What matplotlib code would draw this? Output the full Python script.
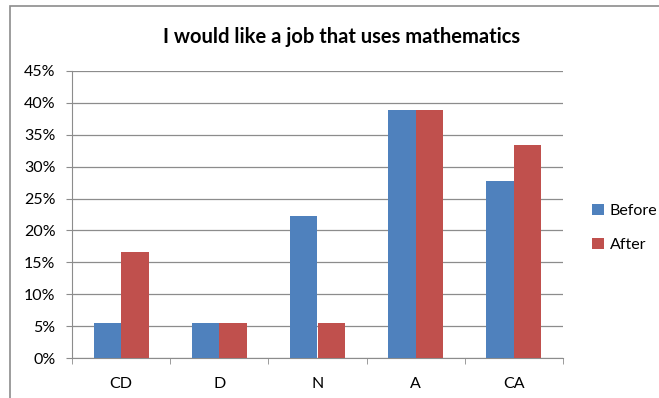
import matplotlib
matplotlib.use("Agg")
import matplotlib.pyplot as plt
import numpy as np
from matplotlib.patches import Rectangle
from matplotlib.ticker import FuncFormatter, FixedLocator

categories = ["CD", "D", "N", "A", "CA"]
before = [5.56, 5.56, 22.22, 38.89, 27.78]
after = [16.67, 5.56, 5.56, 38.89, 33.33]
series_names = ["Before", "After"]
title = "I would like a job that uses mathematics"
yticks = [0, 5, 10, 15, 20, 25, 30, 35, 40, 45]

plt.rcParams['font.family'] = ['Lato', 'DejaVu Sans']

W, H = 659, 398
fig = plt.figure(figsize=(W/100, H/100), dpi=100)
ax = fig.add_axes([72/W, (H-358)/H, (563-72)/W, (358-71)/H])

x = np.arange(len(categories))
bw = 0.28
ax.bar(x - bw/2, before, bw, color="#4F81BD", label=series_names[0], zorder=3)
ax.bar(x + bw/2, after, bw, color="#C0504D", label=series_names[1], zorder=3)

ax.set_xlim(-0.5, len(categories) - 0.5)
ax.set_ylim(0, 45)
ax.set_yticks(yticks)
ax.yaxis.set_major_formatter(FuncFormatter(lambda v, p: f"{int(v)}%"))
ax.yaxis.grid(True, color="#8c8c8c", linewidth=0.9, zorder=0)
ax.set_xticks(x)
ax.set_xticklabels(categories, fontsize=11.5)
ax.xaxis.set_minor_locator(FixedLocator(np.arange(-0.5, len(categories), 1.0)))
ax.tick_params(axis='x', which='major', length=0, pad=14, colors="#000000")
ax.tick_params(axis='x', which='minor', length=4, color="#8c8c8c")
ax.tick_params(axis='y', length=4, color="#8c8c8c", labelsize=11.5, pad=8)
for s in ['top', 'right']:
    ax.spines[s].set_visible(False)
ax.spines['left'].set_color("#8c8c8c")
ax.spines['bottom'].set_color("#8c8c8c")

fig.text(342/W, 1 - 37/H, title, ha='center', va='center', fontsize=14.5, fontweight='bold')

leg = fig.legend(loc='center left', bbox_to_anchor=(578/W, 1 - 228/H), frameon=False,
                 fontsize=11.5, handlelength=0.7, handleheight=0.7, labelspacing=1.25,
                 handletextpad=0.4)

fig.patches.append(Rectangle((10/W, -0.1), 1.2, 1 - 6/H + 0.1, transform=fig.transFigure,
                             fill=False, edgecolor="#8c8c8c", linewidth=1.2, zorder=-1))

fig.savefig("out.png", dpi=100)
